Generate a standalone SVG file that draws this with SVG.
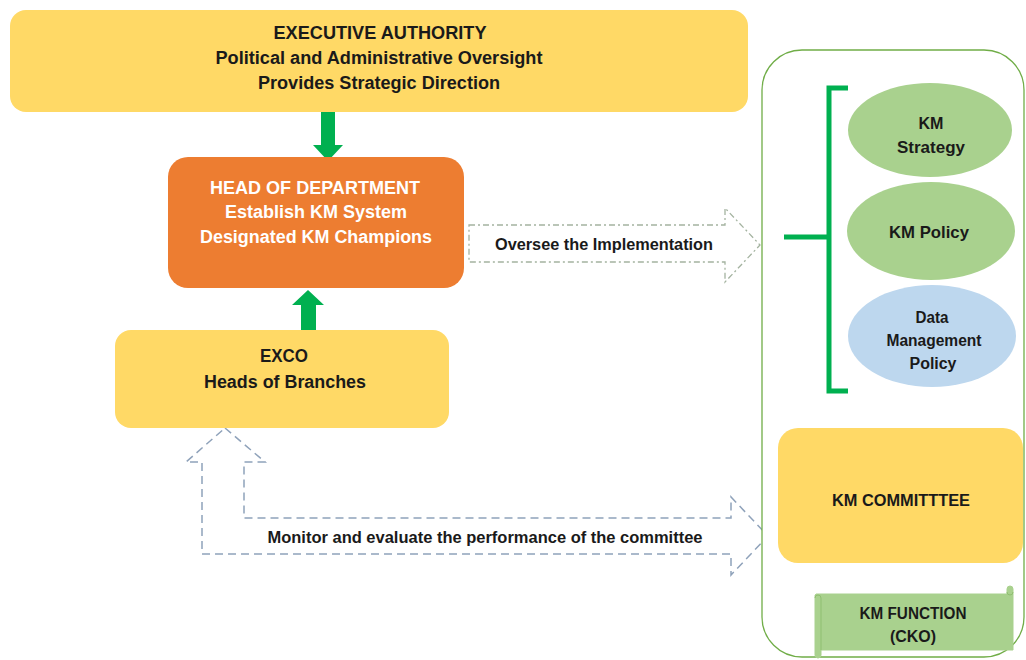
<svg xmlns="http://www.w3.org/2000/svg" width="1026" height="660" viewBox="0 0 1026 660">
<style>
.t{font-family:"Liberation Sans Narrow","Arial Narrow","Liberation Sans",sans-serif;font-weight:bold;text-anchor:middle;fill:#1a1a1a}
.w{fill:#ffffff}
.yel{fill:#FFD966}
.grn{fill:#A9D18E}
.blu{fill:#BDD7EE}
.garrow{fill:#00B050}
</style>
<rect width="1026" height="660" fill="#ffffff"/>
<g id="connectors">
  <polygon class="garrow" points="321,112 335,112 335,145 343,145 328,161 313,145 321,145"/>
  <polygon class="garrow" points="301,330 316,330 316,305 324,305 308,290 292,305 301,305"/>
  <path d="M469,225 H725 V208 L760,245 L725,282 V262 H469 Z" fill="#ffffff" stroke="#A4B3A0" stroke-width="1.3" stroke-dasharray="6 3 2 3"/>
  <text class="t" x="604" y="250" font-size="16" textLength="218" lengthAdjust="spacingAndGlyphs">Oversee the Implementation</text>
  <path d="M225,428 L265,462 H244 V518 H731 V497 L768,536 L731,575 V554 H202 V462 H186 Z" fill="#ffffff" stroke="#8FA2BA" stroke-width="1.5" stroke-dasharray="8 5"/>
  <text class="t" x="485" y="543" font-size="16" textLength="435" lengthAdjust="spacingAndGlyphs">Monitor and evaluate the performance of the committee</text>
</g>
<g id="executive-authority">
  <rect class="yel" x="10" y="10" width="738" height="102" rx="16"/>
  <text class="t" x="380" y="39" font-size="18" textLength="213" lengthAdjust="spacingAndGlyphs">EXECUTIVE AUTHORITY</text>
  <text class="t" x="379" y="64" font-size="18" textLength="327" lengthAdjust="spacingAndGlyphs">Political and Administrative Oversight</text>
  <text class="t" x="379" y="89" font-size="18" textLength="242" lengthAdjust="spacingAndGlyphs">Provides Strategic Direction</text>
</g>
<g id="head-of-department">
  <rect x="168" y="157" width="296" height="131" rx="20" fill="#ED7D31"/>
  <text class="t w" x="315" y="194" font-size="18" textLength="210" lengthAdjust="spacingAndGlyphs">HEAD OF DEPARTMENT</text>
  <text class="t w" x="316" y="218" font-size="18" textLength="182" lengthAdjust="spacingAndGlyphs">Establish KM System</text>
  <text class="t w" x="316" y="243" font-size="18" textLength="232" lengthAdjust="spacingAndGlyphs">Designated KM Champions</text>
</g>
<g id="exco">
  <rect class="yel" x="115" y="330" width="334" height="98" rx="16"/>
  <text class="t" x="284" y="362" font-size="18" textLength="48" lengthAdjust="spacingAndGlyphs">EXCO</text>
  <text class="t" x="285" y="388" font-size="18" textLength="162" lengthAdjust="spacingAndGlyphs">Heads of Branches</text>
</g>
<g id="km-container">
  <rect x="762" y="50" width="262" height="607" rx="40" fill="#ffffff" stroke="#70AD47" stroke-width="1.3"/>
  <path d="M848,88 H829 V391 H848 M784,237 H829" fill="none" stroke="#00B050" stroke-width="5"/>
</g>
<g id="km-strategy">
  <ellipse class="grn" cx="930" cy="130" rx="82" ry="47"/>
  <text class="t" x="931" y="129" font-size="16" textLength="25" lengthAdjust="spacingAndGlyphs">KM</text>
  <text class="t" x="931" y="153" font-size="16" textLength="68" lengthAdjust="spacingAndGlyphs">Strategy</text>
</g>
<g id="km-policy">
  <ellipse class="grn" cx="931" cy="231" rx="84" ry="49"/>
  <text class="t" x="929" y="238" font-size="17" textLength="80" lengthAdjust="spacingAndGlyphs">KM Policy</text>
</g>
<g id="data-management-policy">
  <ellipse class="blu" cx="932" cy="336" rx="84" ry="51"/>
  <text class="t" x="932" y="323" font-size="16" textLength="33" lengthAdjust="spacingAndGlyphs">Data</text>
  <text class="t" x="934" y="346" font-size="16" textLength="95" lengthAdjust="spacingAndGlyphs">Management</text>
  <text class="t" x="933" y="369" font-size="16" textLength="47" lengthAdjust="spacingAndGlyphs">Policy</text>
</g>
<g id="km-committee">
  <rect class="yel" x="778" y="428" width="245" height="135" rx="20"/>
  <text class="t" x="901" y="506" font-size="16" textLength="138" lengthAdjust="spacingAndGlyphs">KM COMMITTTEE</text>
</g>
<g id="km-function">
  <path class="grn" d="M816,594 H1007 V589 a3,3 0 0 1 6,0 V650 H821 V655 a3,3 0 0 1 -6,0 V597 a3,3 0 0 1 1,-3 Z" stroke="#A9D18E"/>
  <path d="M1007,592 a3,3 0 0 0 6,0 M815,598 a3,3 0 0 1 6,0 V650" fill="none" stroke="#8FBF70" stroke-width="1"/>
  <text class="t" x="913" y="619" font-size="16" textLength="107" lengthAdjust="spacingAndGlyphs">KM FUNCTION</text>
  <text class="t" x="913" y="642" font-size="16" textLength="46" lengthAdjust="spacingAndGlyphs">(CKO)</text>
</g>
</svg>
